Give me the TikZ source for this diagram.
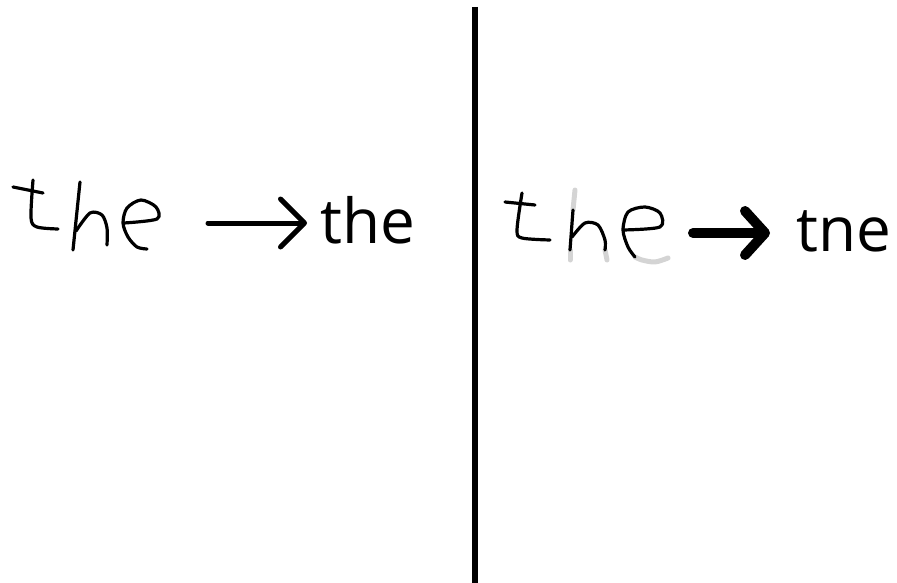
\documentclass[tikz,border=0pt]{standalone}
\usepackage{fontspec}
\setmainfont{Open Sans}
\usepackage{tikz}
\usetikzlibrary{arrows.meta}
\definecolor{inkgray}{HTML}{D4D4D4}

\begin{document}
\begin{tikzpicture}[x=1pt, y=-1pt,
  ink/.style    ={black, line width=3.2pt, line cap=round, line join=round},
  faded/.style  ={inkgray, line width=5pt, line cap=round, line join=round},
  printed/.style={anchor=base west, inner sep=0pt, font=\fontsize{62}{68}\selectfont},
  thinarr/.style={-{Straight Barb[length=24pt, width=48pt, round]},
                  line width=5pt, line cap=round},
  thickarr/.style={-{Straight Barb[length=20pt, width=44pt, round]},
                  line width=10pt, line cap=round}
]
  \useasboundingbox (0,0) rectangle (897,583);

  % divider
  \draw[line width=6pt] (475,7) -- (475,583);

  % left: handwritten word
  \draw[ink] (13,187) -- (43,193);
  \draw[ink] plot[smooth] coordinates {(33,180) (31,218) (37,227) (58,229)};
  \draw[ink] (80,182) -- (73,250);
  \draw[ink] plot[smooth] coordinates {(76,231) (90,213) (102,215) (107,228) (107,245)};
  \draw[ink] plot[smooth] coordinates {(124,223) (157,219) (156,207) (141,200)
                                       (127,208) (123,223) (128,237) (137,247) (147,249)};

  % left: printed word
  \node[printed] (lt) at (320,243) {the};
  \coordinate (ls) at (208,223);
  \draw[thinarr] (ls) -- (ls -| lt.west) [shorten >=13pt];

  % right: handwritten word, faded parts first
  \draw[faded] (575,190) -- (573,210);
  \draw[faded] (570,250) -- (570,260);
  \draw[faded] (605,250) -- (607,260);
  \draw[faded] plot[smooth] coordinates {(635,257) (642,260) (655,262) (668,258)};
  \draw[ink] (505,202) -- (535,205);
  \draw[ink] plot[smooth] coordinates {(522,193) (517,230) (522,238) (550,240)};
  \draw[ink] (573,210) -- (570,250);
  \draw[ink] plot[smooth] coordinates {(572,237) (585,223) (598,225) (605,240) (605,250)};
  \draw[ink] plot[smooth] coordinates {(623,230) (660,227) (660,213) (645,207)
                                       (628,212) (623,230) (628,247) (635,257)};

  % right: printed word
  \node[printed] (rt) at (796,251) {tne};
  \coordinate (rs) at (693,233);
  \draw[thickarr] (rs) -- (rs -| rt.west) [shorten >=26pt];
\end{tikzpicture}
\end{document}
